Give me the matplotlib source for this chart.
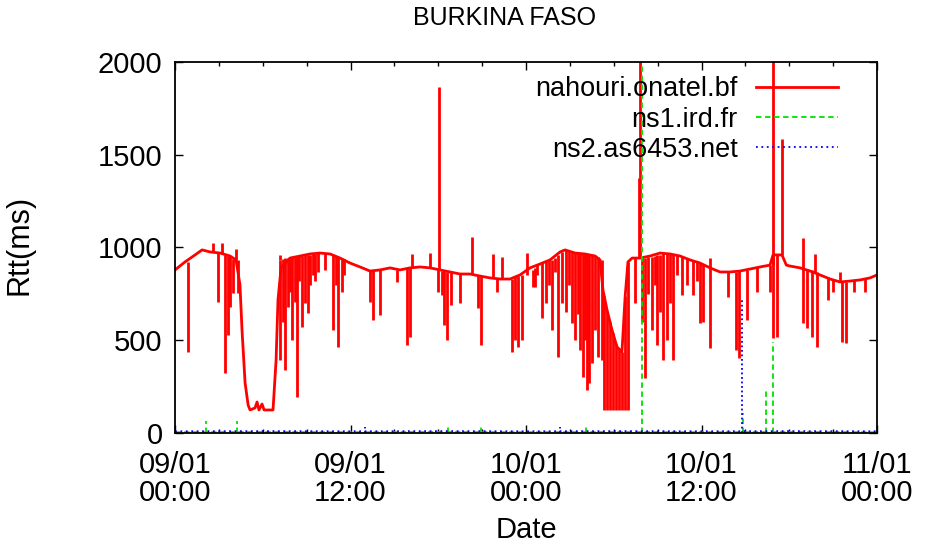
"""
Rtt over two days for Burkina Faso hosts
"""

import numpy as np
import matplotlib
matplotlib.use('Agg')
import matplotlib.pyplot as plt
from matplotlib.ticker import FixedLocator, MultipleLocator

plt.rcParams['font.family'] = ['Liberation Sans', 'DejaVu Sans']

# hours since 09/01 00:00
tick_hours = [0, 12, 24, 36, 48]
tick_labels = ['09/01\n00:00', '09/01\n12:00', '10/01\n00:00', '10/01\n12:00', '11/01\n00:00']

# nahouri.onatel.bf - slow baseline (hours, ms)
red_base_h = [0, 0.68, 1.37, 1.85, 2.39, 3.08, 3.76, 4.17, 4.44, 4.58, 4.79, 5.0,
              5.13, 5.47, 5.61, 5.74, 5.95, 6.09, 6.70, 6.91, 7.04, 7.25, 7.86,
              8.55, 9.23, 9.91, 10.60, 11.28, 11.97, 12.65, 13.33, 14.02, 14.70,
              15.38, 16.07, 16.75, 17.44, 18.12, 18.80, 19.49, 20.17, 20.85, 21.54,
              22.22, 22.91, 23.59, 24.27, 24.96, 25.64, 26.33, 26.67, 27.35, 28.03,
              28.72, 29.06, 29.26, 29.54, 29.88, 30.22, 30.56, 30.77, 30.97, 31.25,
              31.80, 32.48, 33.16, 33.85, 34.53, 35.21, 35.90, 36.58, 37.27, 37.95,
              38.63, 39.32, 40.0, 40.68, 40.89, 41.50, 41.8, 42.05, 42.74, 43.42,
              44.10, 44.79, 45.47, 46.15, 46.84, 47.52, 48.0]
red_base_v = [879, 922, 960, 987, 976, 970, 954, 933, 798, 555, 270, 150,
              124, 135, 167, 124, 156, 124, 124, 393, 717, 890, 943,
              954, 965, 970, 965, 943, 916, 895, 873, 879, 890,
              879, 890, 895, 890, 879, 868, 857, 857, 846, 836,
              830, 830, 852, 890, 911, 933, 976, 987, 970, 965,
              954, 933, 771, 663, 555, 464, 437, 728, 922, 943,
              943, 954, 970, 965, 954, 933, 916, 890, 868, 868,
              873, 884, 895, 905, 960, 960, 905, 900, 890, 873,
              852, 830, 814, 819, 825, 836, 852]

# short drops: time, lowest value, value before the drop
dip_h = [0.89, 2.94, 3.42, 3.62, 3.76, 3.97, 4.31,
         7.18, 7.38, 7.52, 7.73, 7.86, 8.00, 8.21, 8.34, 8.48, 8.68, 8.89, 9.09, 9.23,
         9.44, 9.57, 9.78, 10.26, 10.80, 11.01, 11.15, 11.42, 11.56,
         13.33, 13.54, 14.02, 15.18, 15.86, 16.07, 17.98, 18.26, 18.39, 18.60, 18.87,
         19.49, 20.72, 20.92, 22.02, 23.04, 23.25, 23.45, 23.73, 24.48, 24.62, 24.75,
         25.09, 25.37, 25.57, 25.78, 25.98, 26.19, 26.46, 26.74, 26.94, 27.15, 27.35,
         27.56, 27.69, 27.90, 28.03, 28.17, 28.31, 28.51, 28.72,
         28.92, 29.20, 29.33, 29.54, 29.75, 29.95, 30.16, 30.36, 30.57, 30.77, 30.98,
         31.45, 31.93, 32.14, 32.35, 32.62, 32.82,
         32.96, 33.16, 33.37, 33.64, 33.85, 34.05, 34.33,
         34.67, 35.01, 35.42, 35.69, 35.90, 36.10, 36.58, 37.82, 38.36, 38.56, 39.11,
         39.79, 40.68, 40.89, 41.16, 42.94, 43.21, 43.56, 43.90, 44.65, 44.99, 45.61,
         45.88, 46.43, 47.18]
dip_low = [435, 705, 322, 528, 680, 755, 755,
           393, 600, 340, 680, 760, 500, 706, 195, 820, 570, 700, 645, 798,
           850, 820, 870, 880, 555, 800, 465, 760, 850,
           706, 609, 636, 814, 474, 518, 760, 744, 582, 501, 690,
           700, 674, 474, 760, 436, 501, 464, 501, 787, 787, 850,
           620, 700, 800, 555, 870, 410, 700, 650, 800, 593, 501,
           640, 447, 302, 500, 232, 270, 377, 555,
           410, 393, 124, 124, 124, 124, 124, 124, 124, 124, 124,
           700, 600, 296, 750, 555, 800,
           474, 650, 393, 500, 700, 393, 850,
           744, 800, 744, 820, 593, 598, 458, 733, 447, 404, 609,
           760, 760, 512, 517, 593, 566, 517, 464, 717, 760, 490,
           485, 760, 760]
dip_top = [920, 970, 960, 955, 954, 940, 930,
           930, 940, 945, 945, 946, 950, 952, 950, 954, 955, 958, 960, 962,
           964, 965, 968, 968, 960, 955, 950, 945, 940,
           873, 875, 879, 880, 890, 890, 879, 875, 872, 870, 868,
           857, 850, 846, 836, 832, 840, 845, 850, 880, 890, 905,
           915, 925, 930, 930, 945, 960, 975, 985, 980, 975, 970,
           968, 968, 966, 965, 963, 960, 958, 954,
           950, 935, 740, 660, 600, 540, 480, 455, 437, 740, 920,
           943, 943, 945, 950, 950, 955,
           958, 962, 968, 968, 966, 965, 960,
           955, 945, 935, 925, 916, 910, 890, 868, 870, 872, 880,
           893, 905, 960, 960, 888, 885, 880, 870, 840, 830, 812,
           816, 822, 834]

# short rises: time, peak value, value before the rise
rise_h = [2.60, 3.21, 4.17, 7.18, 16.21, 17.44, 18.05, 20.31, 21.74, 22.36, 24.07,
          31.73, 31.80, 36.58, 40.89, 41.50, 42.94, 43.76, 45.47]
rise_high = [1025, 1025, 990, 960, 965, 970, 1865, 1057, 965, 950, 970,
             1375, 2100, 943, 2100, 1585, 1050, 965, 870]
rise_base = [976, 972, 933, 930, 890, 890, 879, 857, 836, 830, 852,
             943, 943, 890, 905, 960, 885, 865, 814]

# ns1.ird.fr
green_h = [0, 6, 12, 18, 24, 30, 36, 42, 48]
green_v = [4, 5, 4, 5, 4, 5, 4, 5, 4]
green_spike_h = [2.12, 4.24, 18.67, 20.92, 28.10, 31.93, 38.84, 40.41, 40.89]
green_spike_v = [65, 65, 43, 43, 30, 2100, 110, 232, 490]

# ns2.as6453.net
blue_h = [0, 6, 12, 18, 24, 30, 36, 42, 48]
blue_v = [9, 10, 9, 10, 9, 10, 9, 10, 9]
blue_spike_h = [12.99, 26.33, 38.77]
blue_spike_v = [30, 30, 728]

RED = '#ff0000'
GREEN = '#00e000'
BLUE = '#0000ff'


def main():
    fig = plt.figure(figsize=(9.34, 5.51), dpi=100)
    ax = fig.add_axes([0.1874, 0.2142, 0.7516, 0.6733])

    # red
    ax.plot(red_base_h, red_base_v, color=RED, lw=2.0, label='nahouri.onatel.bf')
    ax.vlines(dip_h, dip_low, dip_top, color=RED, lw=2.0)
    ax.vlines(rise_h, rise_base, rise_high, color=RED, lw=2.0)

    # green
    ax.plot(green_h, green_v, color=GREEN, lw=1.3, ls=(0, (3, 2)), label='ns1.ird.fr')
    ax.vlines(green_spike_h, 0, green_spike_v, color=GREEN, lw=1.3, linestyles=(0, (3, 2)))

    # blue
    ax.plot(blue_h, blue_v, color=BLUE, lw=1.3, ls=(0, (1, 2)), label='ns2.as6453.net')
    ax.vlines(blue_spike_h, 0, blue_spike_v, color=BLUE, lw=1.3, linestyles=(0, (1, 1.5)))

    ax.set_xlim(0, 48)
    ax.set_ylim(0, 2000)
    ax.xaxis.set_major_locator(FixedLocator(tick_hours))
    ax.set_xticklabels(tick_labels)
    ax.xaxis.set_minor_locator(MultipleLocator(3))
    ax.yaxis.set_major_locator(MultipleLocator(500))

    ax.tick_params(which='both', direction='in', top=True, right=True, width=1.0)
    ax.tick_params(which='major', length=6)
    ax.tick_params(which='minor', length=3)
    ax.tick_params(axis='x', which='major', labelsize=21, pad=13)
    ax.tick_params(axis='y', labelsize=21, pad=9)
    for lbl in ax.get_xticklabels():
        lbl.set_linespacing(1.0)
    for sp in ax.spines.values():
        sp.set_linewidth(1.3)

    ax.set_ylabel('Rtt(ms)', fontsize=22)
    ax.yaxis.set_label_coords(-0.2, 0.507)
    ax.set_xlabel('Date', fontsize=21)
    ax.xaxis.label.set_va('center')
    ax.xaxis.set_label_coords(0.5, -0.261)
    fig.text(505 / 934, 1 - 18 / 551, 'BURKINA FASO', fontsize=18, ha='center', va='center')

    ax.legend(loc='upper right', frameon=False, markerfirst=False, fontsize=19.5,
              handlelength=3.0, handletextpad=0.7, labelspacing=0.15,
              borderpad=0, borderaxespad=0, bbox_to_anchor=(0.944, 0.961))

    fig.savefig('out.png', dpi=100)


if __name__ == '__main__':
    main()
